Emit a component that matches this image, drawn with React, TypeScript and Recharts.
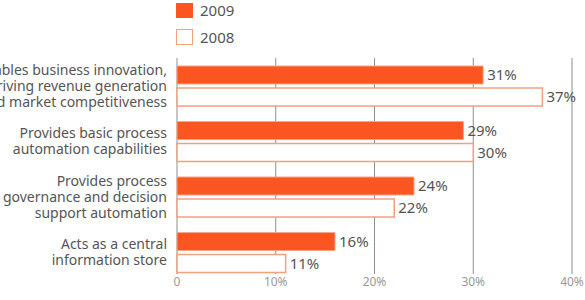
import React from "react";
import { BarChart, Bar, XAxis, YAxis, CartesianGrid, LabelList } from "recharts";

const categories: string[][] = [
  ["Enables business innovation,", "driving revenue generation", "and market competitiveness"],
  ["Provides basic process", "automation capabilities"],
  ["Provides process", "governance and decision", "support automation"],
  ["Acts as a central", "information store"],
];
const values2009: number[] = [31, 29, 24, 16];
const values2008: number[] = [37, 30, 22, 11];
const xTicks: number[] = [0, 10, 20, 30, 40];
const seriesNames = { y2009: "2009", y2008: "2008" };

const data = categories.map((lines, i) => ({
  name: lines.join(" "),
  lines,
  y2009: values2009[i],
  y2008: values2008[i],
}));

const FONT = "'Noto Sans', sans-serif";
const ORANGE = "#FB5522";
const ORANGE_EDGE = "#F6A585";
const OUTLINE = "#F2A07E";
const TEXT = "#555555";

const CategoryTick = (props: any) => {
  const { x, y, payload, index } = props;
  const lines: string[] = categories[index] ?? [String(payload.value)];
  const lh = 16;
  const start = y - ((lines.length - 1) * lh) / 2;
  return (
    <text textAnchor="end" fontFamily={FONT} fontSize={14} fill={TEXT}>
      {lines.map((l, i) => (
        <tspan key={i} x={x - 2} y={start + i * lh} dy="0.35em">
          {l}
        </tspan>
      ))}
    </text>
  );
};

const ValueTick = (props: any) => {
  const { x, y, payload } = props;
  const v = payload.value as number;
  return (
    <text x={x} y={y} dy={-2} textAnchor="middle" fontFamily={FONT} fontSize={12} fill="#9a9a9a">
      {v === 0 ? "0" : `${v}%`}
    </text>
  );
};

const LegendBox = () => (
  <div
    style={{
      position: "absolute",
      left: 176,
      top: 0,
      fontFamily: FONT,
      fontSize: 15,
      color: TEXT,
      lineHeight: "16px",
    }}
  >
    <div style={{ display: "flex", alignItems: "center", height: 16, marginTop: 2 }}>
      <span style={{ width: 17, height: 15, background: ORANGE, display: "inline-block" }} />
      <span style={{ marginLeft: 7 }}>{seriesNames.y2009}</span>
    </div>
    <div style={{ display: "flex", alignItems: "center", height: 16, marginTop: 11 }}>
      <span
        style={{
          width: 17,
          height: 16,
          background: "#fff",
          border: `1.5px solid ${OUTLINE}`,
          display: "inline-block",
          boxSizing: "border-box",
        }}
      />
      <span style={{ marginLeft: 7 }}>{seriesNames.y2008}</span>
    </div>
  </div>
);

export default function App() {
  return (
    <div style={{ position: "absolute", left: 0, top: 0, width: 585, height: 300, background: "#fff" }}>
      <BarChart
        width={585}
        height={300}
        data={data}
        layout="vertical"
        margin={{ top: 58, right: 13, bottom: 0, left: 0 }}
        barSize={18}
        barGap={4}
      >
        <CartesianGrid horizontal={false} stroke="#8f8f8f" y={58} height={216} />
        <XAxis
          type="number"
          domain={[0, 40]}
          ticks={xTicks}
          axisLine={false}
          tickLine={false}
          height={20}
          tick={<ValueTick />}
          interval={0}
        />
        <YAxis
          type="category"
          dataKey="name"
          width={177}
          axisLine={false}
          tickLine={false}
          tick={<CategoryTick />}
          interval={0}
        />
        <Bar dataKey="y2009" name={seriesNames.y2009} fill={ORANGE} stroke={ORANGE_EDGE} strokeWidth={1} isAnimationActive={false}>
          <LabelList dataKey="y2009" position="right" offset={4} formatter={(v: any) => `${v}%`} fill={TEXT} fontSize={15} fontFamily={FONT} />
        </Bar>
        <Bar dataKey="y2008" name={seriesNames.y2008} fill="#ffffff" stroke={OUTLINE} strokeWidth={1.5} isAnimationActive={false}>
          <LabelList dataKey="y2008" position="right" offset={4} formatter={(v: any) => `${v}%`} fill={TEXT} fontSize={15} fontFamily={FONT} />
        </Bar>
      </BarChart>
      <LegendBox />
    </div>
  );
}
